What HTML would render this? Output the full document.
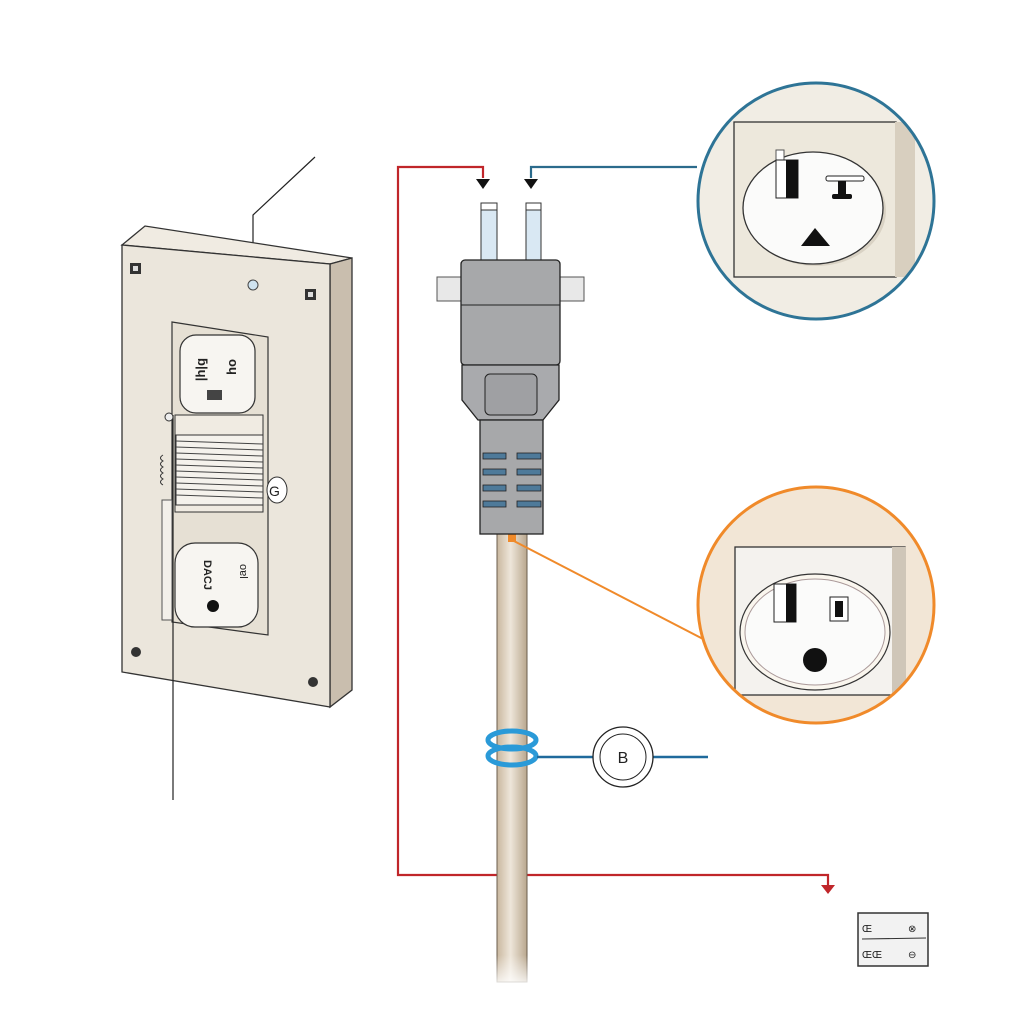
<!DOCTYPE html>
<html><head><meta charset="utf-8"><style>html,body{margin:0;padding:0;background:#fff}svg{display:block}</style></head>
<body>
<svg width="1024" height="1024" viewBox="0 0 1024 1024" xmlns="http://www.w3.org/2000/svg" font-family="Liberation Sans, sans-serif">
<defs>
<linearGradient id="cable" x1="0" x2="1"><stop offset="0" stop-color="#c9b79e"/><stop offset="0.45" stop-color="#eee6da"/><stop offset="1" stop-color="#b9a78e"/></linearGradient>
<linearGradient id="fade" x1="0" y1="0" x2="0" y2="1"><stop offset="0.75" stop-color="#fff" stop-opacity="0"/><stop offset="1" stop-color="#fff" stop-opacity="1"/></linearGradient>
<clipPath id="cb"><circle cx="816" cy="201" r="118"/></clipPath>
<clipPath id="co"><circle cx="816" cy="605" r="118"/></clipPath>
</defs>

<polyline points="315,157 253,215 253,285" fill="none" stroke="#222" stroke-width="1.2"/>

<polygon points="122,245 145,226 352,258 330,264" fill="#f0ebe2" stroke="#333" stroke-width="1.3"/>
<polygon points="330,264 352,258 352,690 330,707" fill="#c9beae" stroke="#333" stroke-width="1.3"/>
<polygon points="122,245 330,264 330,707 122,672" fill="#ebe6dc" stroke="#333" stroke-width="1.3"/>
<rect x="130" y="263" width="11" height="11" fill="#333"/><rect x="133" y="266" width="5" height="5" fill="#ddd"/>
<rect x="305" y="289" width="11" height="11" fill="#333"/><rect x="308" y="292" width="5" height="5" fill="#ddd"/>
<circle cx="253" cy="285" r="5" fill="#cfe3f0" stroke="#444"/>
<circle cx="136" cy="652" r="5" fill="#333"/><circle cx="313" cy="682" r="5" fill="#333"/>
<polygon points="172,322 268,337 268,635 172,622" fill="#e6e0d4" stroke="#333" stroke-width="1.2"/>
<rect x="180" y="335" width="75" height="78" rx="16" fill="#f7f5f1" stroke="#333" stroke-width="1.2"/>
<text x="196" y="370" font-size="13" font-weight="bold" fill="#222" transform="rotate(90 203 365)">ƃ|ɥ|</text>
<text x="228" y="370" font-size="13" font-weight="bold" fill="#222" transform="rotate(90 234 365)">oɥ</text>
<rect x="207" y="390" width="15" height="10" fill="#444"/>
<polygon points="175,415 263,415 263,512 175,512" fill="#f0ebe2" stroke="#333"/>
<rect x="176" y="435" width="87" height="70" fill="#f5f2ec" stroke="#333"/>
<g stroke="#444" stroke-width="1"><line x1="176" y1="441" x2="263" y2="444"/><line x1="176" y1="447" x2="263" y2="450"/><line x1="176" y1="453" x2="263" y2="456"/><line x1="176" y1="459" x2="263" y2="462"/><line x1="176" y1="465" x2="263" y2="468"/><line x1="176" y1="471" x2="263" y2="474"/><line x1="176" y1="477" x2="263" y2="480"/><line x1="176" y1="483" x2="263" y2="486"/><line x1="176" y1="489" x2="263" y2="492"/><line x1="176" y1="495" x2="263" y2="498"/></g>
<ellipse cx="277" cy="490" rx="10" ry="13" fill="#fff" stroke="#333"/><text x="269" y="496" font-size="14" fill="#222">G</text>
<path d="M163,455 q-5,3 0,6 q-5,3 0,6 q-5,3 0,6 q-5,3 0,6 q-5,3 0,6" fill="none" stroke="#333"/>
<rect x="162" y="500" width="10" height="120" fill="#f3f0ea" stroke="#555"/>
<rect x="175" y="543" width="83" height="84" rx="20" fill="#f7f5f1" stroke="#333" stroke-width="1.2"/>
<text x="188" y="560" font-size="11" font-weight="bold" fill="#222" transform="rotate(90 196 568)">DACJ</text>
<text x="226" y="562" font-size="11" fill="#222" transform="rotate(90 232 570)">oɐl</text>
<circle cx="213" cy="606" r="6" fill="#111"/>
<line x1="173" y1="415" x2="173" y2="800" stroke="#222" stroke-width="1.2"/>
<circle cx="169" cy="417" r="4" fill="#eee" stroke="#333"/>

<polyline points="483,178 483,167 398,167 398,875 828,875 828,885" fill="none" stroke="#c0262a" stroke-width="2.2"/>
<polygon points="476,179 490,179 483,189" fill="#111"/>
<polygon points="821,885 835,885 828,894" fill="#c0262a"/>
<polyline points="531,178 531,167 697,167" fill="none" stroke="#2b6b8c" stroke-width="2.2"/>
<polygon points="524,179 538,179 531,189" fill="#111"/>

<rect x="497" y="532" width="30" height="450" fill="url(#cable)" stroke="#6b5e4e" stroke-width="1"/>
<rect x="494" y="850" width="36" height="140" fill="url(#fade)"/>
<rect x="508" y="534" width="8" height="8" fill="#f08a2a"/>
<line x1="512" y1="540" x2="705" y2="640" stroke="#f08a2a" stroke-width="2"/>

<rect x="481" y="203" width="16" height="58" fill="#d9e8f3" stroke="#333"/><rect x="481" y="203" width="16" height="7" fill="#fff" stroke="#333"/>
<rect x="526" y="203" width="15" height="58" fill="#d9e8f3" stroke="#333"/><rect x="526" y="203" width="15" height="7" fill="#fff" stroke="#333"/>
<rect x="437" y="277" width="25" height="24" fill="#e8e8e8" stroke="#555"/><rect x="559" y="277" width="25" height="24" fill="#e8e8e8" stroke="#555"/>
<rect x="461" y="260" width="99" height="105" rx="4" fill="#a7a8aa" stroke="#222" stroke-width="1.3"/>
<line x1="461" y1="305" x2="560" y2="305" stroke="#222"/>
<polygon points="462,365 559,365 559,400 543,420 478,420 462,400" fill="#a9aaad" stroke="#222" stroke-width="1.3"/>
<rect x="485" y="374" width="52" height="41" rx="5" fill="#9fa0a3" stroke="#222"/>
<rect x="480" y="420" width="63" height="114" fill="#a7a8aa" stroke="#222" stroke-width="1.3"/>
<g fill="#4e7a9a" stroke="#222" stroke-width="0.8">
<rect x="483" y="453" width="23" height="6"/><rect x="517" y="453" width="24" height="6"/>
<rect x="483" y="469" width="23" height="6"/><rect x="517" y="469" width="24" height="6"/>
<rect x="483" y="485" width="23" height="6"/><rect x="517" y="485" width="24" height="6"/>
<rect x="483" y="501" width="23" height="6"/><rect x="517" y="501" width="24" height="6"/></g>

<ellipse cx="512" cy="740" rx="24" ry="9" fill="none" stroke="#2a9ad8" stroke-width="5"/>
<ellipse cx="512" cy="756" rx="24" ry="9" fill="none" stroke="#2a9ad8" stroke-width="5"/>
<line x1="537" y1="757" x2="708" y2="757" stroke="#1f6a9c" stroke-width="2.5"/>
<circle cx="623" cy="757" r="30" fill="#fff" stroke="#222" stroke-width="1.3"/>
<circle cx="623" cy="757" r="23" fill="#fff" stroke="#222" stroke-width="1"/>
<text x="623" y="763" font-size="16" text-anchor="middle" fill="#222">B</text>

<circle cx="816" cy="201" r="118" fill="#f1ede4"/>
<g clip-path="url(#cb)"><rect x="734" y="122" width="162" height="155" fill="#ede8dc" stroke="#333" stroke-width="1.3"/><rect x="895" y="122" width="20" height="155" fill="#d8cfbf"/></g>
<ellipse cx="816" cy="211" rx="70" ry="55" fill="#d9d2c4"/>
<ellipse cx="813" cy="208" rx="70" ry="56" fill="#fbfbfa" stroke="#333" stroke-width="1.3"/>
<rect x="776" y="150" width="8" height="10" fill="#fff" stroke="#555"/>
<rect x="776" y="160" width="22" height="38" fill="#fff" stroke="#222"/><rect x="786" y="160" width="12" height="38" fill="#111"/>
<rect x="826" y="176" width="38" height="5" rx="2" fill="#fff" stroke="#222"/><rect x="838" y="181" width="8" height="14" fill="#111"/><rect x="832" y="194" width="20" height="5" rx="2" fill="#111"/>
<path d="M801,246 L815,228 L830,246 Z" fill="#111"/>
<circle cx="816" cy="201" r="118" fill="none" stroke="#2e7496" stroke-width="3"/>

<circle cx="816" cy="605" r="118" fill="#f2e6d6"/>
<g clip-path="url(#co)"><rect x="735" y="547" width="170" height="148" fill="#f4f2ee" stroke="#333" stroke-width="1.3"/><rect x="892" y="547" width="14" height="148" fill="#cfc6b8"/></g>
<ellipse cx="815" cy="632" rx="75" ry="58" fill="#faf6ee" stroke="#333" stroke-width="1.2"/>
<ellipse cx="815" cy="632" rx="70" ry="53" fill="#fbfbfa" stroke="#a99" stroke-width="1"/>
<rect x="774" y="584" width="22" height="38" fill="#fff" stroke="#222"/><rect x="786" y="584" width="10" height="38" fill="#111"/>
<rect x="830" y="597" width="18" height="24" fill="#fff" stroke="#222"/><rect x="835" y="601" width="8" height="16" fill="#111"/>
<circle cx="815" cy="660" r="12" fill="#111"/>
<circle cx="816" cy="605" r="118" fill="none" stroke="#f08a2a" stroke-width="3"/>

<rect x="858" y="913" width="70" height="53" fill="#f2f2f2" stroke="#333" stroke-width="1.5"/>
<line x1="862" y1="939" x2="926" y2="938" stroke="#333"/>
<text x="862" y="932" font-size="10" fill="#222">Œ</text><text x="908" y="932" font-size="10" fill="#222">⊗</text>
<text x="862" y="958" font-size="10" fill="#222">ŒŒ</text><text x="908" y="958" font-size="10" fill="#222">⊖</text>
</svg>
</body></html>
